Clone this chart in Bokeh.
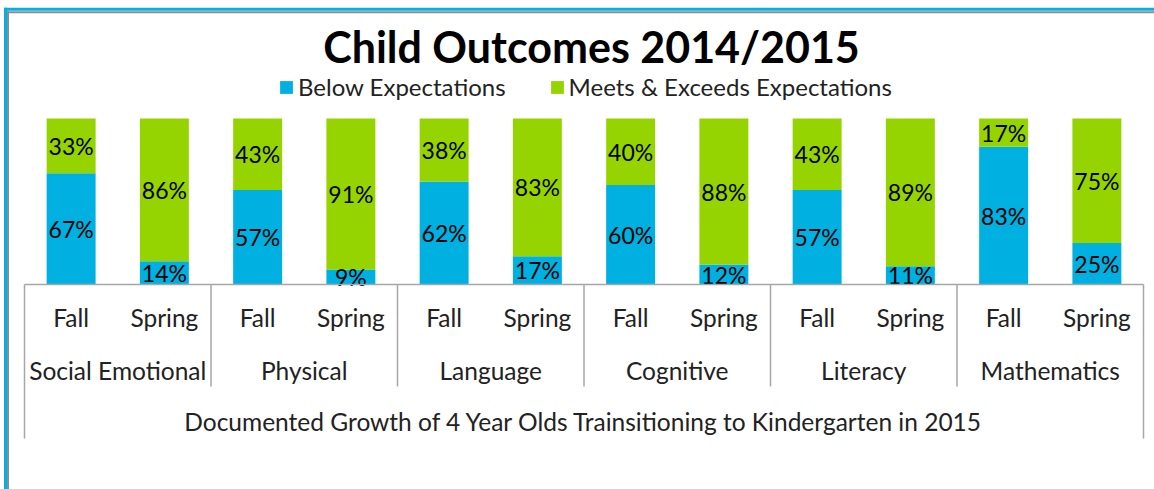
from bokeh.plotting import figure
from bokeh.models import ColumnDataSource, Range1d, Legend, LegendItem, Label
from bokeh.embed import file_html
from bokeh.resources import INLINE
from bokeh.core.properties import value

# ---------------- data ----------------
chart_title = "Child Outcomes 2014/2015"
domains = ["Social Emotional", "Physical", "Language", "Cognitive", "Literacy", "Mathematics"]
seasons = ["Fall", "Spring"]
below = [67, 14, 57, 9, 62, 17, 60, 12, 57, 11, 83, 25]
meets = [33, 86, 43, 91, 38, 83, 40, 88, 43, 89, 17, 75]
series_names = ["Below Expectations", "Meets & Exceeds Expectations"]
x_title = "Documented Growth of 4 Year Olds Trainsitioning to Kindergarten in 2015"

# ---------------- style / layout ----------------
BLUE = "#00B0E0"
GREEN = "#96D400"
GRID = "#A6A6A6"
TXT = "#222222"
FONT = "Lato"
FRAME_BLUE = "#00B0E8"
FRAME_GRAY = "#8C8C8C"

W, H = 1154, 489
PX_PCT = 1.66               # pixels per percent
PX_SLOT = 93.25             # pixels per bar slot
LEFT_PAD, RIGHT_PAD = 24, 11
ZERO_Y = 284                # pixel row of 0 %

n = len(domains) * len(seasons)
x_lo = -0.5 - LEFT_PAD / PX_SLOT
x_hi = n - 0.5 + RIGHT_PAD / PX_SLOT
y_hi = ZERO_Y / PX_PCT
y_lo = -(H - ZERO_Y) / PX_PCT


def dx(px):  # pixel column -> data x
    return x_lo + px / PX_SLOT


def dy(py):  # pixel row -> data y
    return y_hi - py / PX_PCT


p = figure(width=W, height=H, output_backend="svg", toolbar_location=None,
           x_range=Range1d(x_lo, x_hi), y_range=Range1d(y_lo, y_hi),
           x_axis_type=None, y_axis_type=None,
           min_border=0, min_border_left=0, min_border_right=0,
           min_border_top=0, min_border_bottom=0)
p.outline_line_color = None
p.grid.visible = False
p.background_fill_color = "white"
p.border_fill_color = "white"

# outer chart frame (decoration)
p.segment(x0=[dx(5), dx(3.5)], y0=[dy(7.3), dy(8.7)], x1=[dx(5), dx(W)], y1=[dy(H), dy(8.7)],
          line_color=FRAME_BLUE, line_width=3)
p.segment(x0=[dx(7.5), dx(6.5)], y0=[dy(10.2), dy(11.8)], x1=[dx(7.5), dx(W)], y1=[dy(H), dy(11.8)],
          line_color=FRAME_GRAY, line_width=2)

xs = list(range(n))
season_lab = [seasons[i % len(seasons)] for i in range(n)]
src = ColumnDataSource(dict(x=xs, below=below, meets=meets))

r = p.vbar_stack(["below", "meets"], x="x", width=0.525, source=src,
                 color=[BLUE, GREEN], line_color=None)

# percent labels
lab_x, lab_y, lab_t = [], [], []
for i in range(n):
    lab_x += [xs[i], xs[i]]
    lab_y += [below[i] / 2, below[i] + meets[i] / 2]
    lab_t += [f"{below[i]}%", f"{meets[i]}%"]
p.text(x=lab_x, y=lab_y, text=lab_t, text_align="center", text_baseline="middle",
       text_font=value(FONT), text_font_size="23px", text_color="black")

# axis line and separators
sep_x = [-0.5] + [g * len(seasons) - 0.5 for g in range(1, len(domains))] + [n - 0.5]
sep_bottom = [dy(438)] + [dy(386)] * (len(domains) - 1) + [dy(438)]
p.segment(x0=sep_x, y0=[0] * len(sep_x), x1=sep_x, y1=sep_bottom,
          line_color=GRID, line_width=1.5)
p.segment(x0=[-0.5], y0=[0], x1=[n - 0.5], y1=[0], line_color=GRID, line_width=1.5)

# category labels
p.text(x=xs, y=[dy(316.7)] * n, text=season_lab, text_align="center",
       text_baseline="middle", text_font=value(FONT), text_font_size="24.5px",
       text_color=TXT)
grp_x = [g * len(seasons) + 0.5 for g in range(len(domains))]
p.text(x=grp_x, y=[dy(369.5)] * len(domains), text=domains, text_align="center",
       text_baseline="middle", text_font=value(FONT), text_font_size="24.5px",
       text_color=TXT)
p.text(x=[(n - 1) / 2], y=[dy(420.5)], text=[x_title], text_align="center",
       text_baseline="middle", text_font=value(FONT), text_font_size="24.5px",
       text_color=TXT)

# title
p.add_layout(Label(x=dx(591), y=dy(46), text=chart_title, text_align="center",
                   text_baseline="middle", text_font=FONT, text_font_size="43px",
                   text_font_style="bold", text_color="black"))

legend = Legend(items=[LegendItem(label=series_names[0], renderers=[r[0]]),
                       LegendItem(label=series_names[1], renderers=[r[1]])],
                orientation="horizontal", location=(278, H - 101),
                padding=0, margin=0, spacing=43, label_standoff=4,
                glyph_width=16, glyph_height=16,
                label_text_font=FONT, label_text_font_size="24px",
                label_text_color=TXT, border_line_color=None,
                background_fill_alpha=0)
p.add_layout(legend)

open("out.html", "w").write(file_html(p, INLINE))
